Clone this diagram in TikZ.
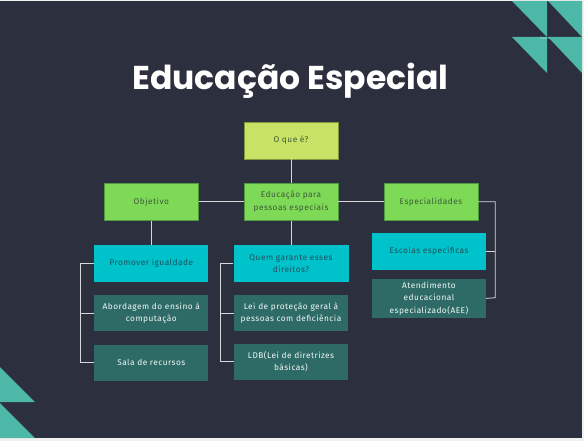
\documentclass[tikz,border=0pt]{standalone}
\usepackage{fontspec}
\setmainfont{Fira Sans}[LetterSpace=6]
\newfontfamily\titlefont{Poppins}
\usetikzlibrary{positioning}

\definecolor{slidebg}{HTML}{2C2F3E}
\definecolor{teal}{HTML}{4DB8A8}
\definecolor{lime}{HTML}{C8E265}
\definecolor{limeline}{HTML}{7E9A3A}
\definecolor{leaf}{HTML}{7ED957}
\definecolor{leafline}{HTML}{4E9A3C}
\definecolor{leaftext}{HTML}{3D5A3A}
\definecolor{aqua}{HTML}{00C2CB}
\definecolor{aquatext}{HTML}{1F4F5A}
\definecolor{deepteal}{HTML}{2F6B66}
\definecolor{rail}{HTML}{D8D8DC}

\tikzset{
  box/.style={rectangle,minimum width=94pt,minimum height=37pt,inner sep=2pt,
    align=center,font=\fontsize{8.3}{12.3}\selectfont},
  question/.style={box,fill=lime,draw=limeline,line width=0.5pt,text=leaftext},
  topic/.style={box,fill=leaf,draw=leafline,line width=0.5pt,text=leaftext},
  headbox/.style={box,minimum width=114pt,fill=aqua,text=aquatext},
  itembox/.style={box,minimum width=114pt,minimum height=36pt,fill=deepteal,text=white!92!teal},
  link/.style={draw=rail,line width=0.8pt}
}

\begin{document}
\begin{tikzpicture}[x=1pt,y=-1pt]
 \useasboundingbox (0,0) rectangle (584,441);
 \fill[gray!12] (0,0) rectangle (584,441);
 \fill[slidebg] (0,1) rectangle (582,438);

% corner triangles
 \fill[teal] (512,1) -- (547,1) -- (547,37) -- cycle;
 \fill[teal] (548,1) -- (582,1) -- (582,37) -- cycle;
 \fill[teal] (512,37) -- (547,37) -- (547,73) -- cycle;
 \fill[teal] (548,37) -- (582,37) -- (582,73) -- cycle;
 \fill[teal] (0,367) -- (35,402) -- (0,402) -- cycle;
 \fill[teal] (0,403) -- (35,438) -- (0,438) -- cycle;
 \node[text=white,opacity=0.6,font=\fontsize{3.5}{4}\selectfont] (mark) at (545,38) {Canva};

 \node[anchor=base,text=white,font=\titlefont\bfseries\fontsize{33}{36}\selectfont] (title) at (290.5,89.5) {Educação Especial};

 \node[question] (what) at (291,140.5) {O que é?};
 \node[topic] (educacao) at (291,201.8) {Educação para\\pessoas especiais};
 \node[topic] (objetivo) at (151.3,201.8) {Objetivo};
 \node[topic] (especialidades) at (431,201.8) {Especialidades};

 \node[headbox] (promover) at (151.3,263.3) {Promover igualdade};
 \node[itembox,below=13pt of promover] (abordagem) {Abordagem do ensino à\\computação};
 \node[itembox,below=13pt of abordagem] (sala) {Sala de recursos};

 \node[headbox,minimum width=115pt] (quem) at (291,263.3) {Quem garante esses\\direitos?};
 \node[itembox,below=13pt of quem] (lei) {Lei de proteção geral à\\pessoas com deficiência};
 \node[itembox,below=12pt of lei] (ldb) {LDB(Lei de diretrizes\\básicas)};

 \node[headbox] (escolas) at (429,251) {Escolas específicas};
 \node[itembox,minimum height=39pt,below=9pt of escolas] (atendimento) {Atendimento\\educacional\\especializado(AEE)};

 \coordinate (leftrail) at (80.7,263.3);
 \coordinate (midrail) at (220.3,263.3);
 \coordinate (rightrail) at (495.3,297.7);

 \draw[link] (what) -- (educacao);
 \draw[link] (objetivo) -- (educacao);
 \draw[link] (educacao) -- (especialidades);
 \draw[link] (objetivo) -- (promover);
 \draw[link] (educacao) -- (quem);
 \draw[link] (promover.west) -- (leftrail) |- (sala.west);
 \draw[link] (abordagem.west) -- (abordagem.west -| leftrail);
 \draw[link] (quem.west) -- (midrail) |- (ldb.west);
 \draw[link] (lei.west) -- (lei.west -| midrail);
 \draw[link] (especialidades.east) -| (rightrail) -- (atendimento.east);
 \draw[link] (escolas.east) -- (escolas.east -| rightrail);
\end{tikzpicture}
\end{document}
